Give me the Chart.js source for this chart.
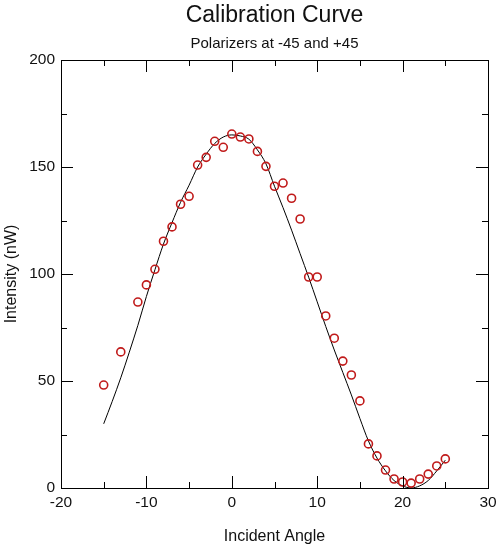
<!DOCTYPE html>
<html>
<head>
<meta charset="utf-8">
<script src="https://cdn.jsdelivr.net/npm/chart.js@4"></script>
<style>
  html, body { margin: 0; padding: 0; background: #fff; }
  #wrap { width: 504px; height: 552px; }
</style>
</head>
<body>
<div id="wrap"><canvas id="calChart" width="504" height="552"></canvas></div>
<script>
// measured points (incident angle in degrees, intensity in nW)
const angles = [-15, -13, -11, -10, -9, -8, -7, -6, -5, -4, -3, -2, -1, 0, 1, 2, 3, 4, 5, 6, 7, 8, 9, 10,
  11, 12, 13, 14, 15, 16, 17, 18, 19, 20, 21, 22, 23, 24, 25];
const intensity = [48.1, 63.6, 86.9, 94.9, 102.2, 115.3, 122, 132.6, 136.3, 150.9, 154.5, 162, 159.2, 165.4,
  164, 163.1, 157.3, 150.3, 141, 142.5, 135.4, 125.7, 98.6, 98.6, 80.4, 70, 59.3, 52.8, 40.7, 20.6,
  15, 8.4, 4.2, 2.8, 2.3, 4.2, 6.5, 10.3, 13.6];

// fitted curve
const fitAngles = [-15, -14, -13, -12, -11, -10, -9, -8, -7, -6, -5, -4, -3, -2, -1, 0, 1, 2, 3, 4, 5,
  6, 7, 8, 9, 10, 11, 12, 13, 14, 15, 16, 17, 18, 19, 20, 21, 22, 23, 24, 25];
const fitIntensity = [30, 40.5, 51.5, 63.5, 76, 89.5, 102, 114, 124, 133.5, 141.5, 150, 156, 161, 164, 165,
  164.5, 163, 158, 151.5, 141, 131, 120.5, 109.5, 98.5, 87, 75.5, 64.5, 54, 43.5, 32.5, 22, 14, 8,
  3.5, 1, 0, 1, 3.5, 8, 13];

const xTicks = { min: -20, max: 30, step: 10 };
const yTicks = { min: 0, max: 200, step: 50 };

const FONT = "'Liberation Sans', Arial, Helvetica, sans-serif";

// box + inward ticks + titles
const frame = {
  id: 'frame',
  afterDraw(chart) {
    const { ctx, chartArea: a, scales: { x, y } } = chart;
    ctx.save();
    ctx.strokeStyle = '#000';
    ctx.lineWidth = 1;
    ctx.strokeRect(a.left + 0.5, a.top + 0.5, a.right - a.left, a.bottom - a.top);

    ctx.beginPath();
    x.ticks.forEach(t => {
      const px = Math.round(x.getPixelForValue(t.value)) + 0.5;
      ctx.moveTo(px, a.bottom); ctx.lineTo(px, a.bottom - 12);
      ctx.moveTo(px, a.top); ctx.lineTo(px, a.top + 12);
      const m = t.value + xTicks.step / 2;
      if (m < xTicks.max) {
        const pm = Math.round(x.getPixelForValue(m)) + 0.5;
        ctx.moveTo(pm, a.bottom); ctx.lineTo(pm, a.bottom - 6);
        ctx.moveTo(pm, a.top); ctx.lineTo(pm, a.top + 6);
      }
    });
    y.ticks.forEach(t => {
      const py = Math.round(y.getPixelForValue(t.value)) + 0.5;
      ctx.moveTo(a.left, py); ctx.lineTo(a.left + 12, py);
      ctx.moveTo(a.right, py); ctx.lineTo(a.right - 12, py);
      const m = t.value + yTicks.step / 2;
      if (m < yTicks.max) {
        const pm = Math.round(y.getPixelForValue(m)) + 0.5;
        ctx.moveTo(a.left, pm); ctx.lineTo(a.left + 6, pm);
        ctx.moveTo(a.right, pm); ctx.lineTo(a.right - 6, pm);
      }
    });
    ctx.stroke();

    const cx = (a.left + a.right) / 2;
    ctx.fillStyle = '#111';
    ctx.textAlign = 'center';
    ctx.textBaseline = 'middle';
    ctx.font = '23px ' + FONT;
    ctx.fillText('Calibration Curve', cx, 16);
    ctx.font = '15px ' + FONT;
    ctx.fillText('Polarizers at -45 and +45', cx, 44);
    ctx.restore();
  }
};

new Chart(document.getElementById('calChart').getContext('2d'), {
  type: 'scatter',
  data: {
    datasets: [
      {
        label: 'Data',
        data: angles.map((a, i) => ({ x: a, y: intensity[i] })),
        pointStyle: 'circle',
        pointRadius: 4,
        pointBorderWidth: 1.6,
        borderColor: '#c01a1a',
        backgroundColor: 'rgba(0,0,0,0)',
        showLine: false,
        order: 0,
      },
      {
        label: 'Fit',
        data: fitAngles.map((a, i) => ({ x: a, y: fitIntensity[i] })),
        showLine: true,
        borderColor: '#000',
        borderWidth: 1,
        pointRadius: 0,
        cubicInterpolationMode: 'monotone',
        fill: false,
        order: 1,
      }
    ]
  },
  options: {
    responsive: false,
    animation: false,
    events: [],
    layout: { padding: { top: 60, right: 16, left: 0, bottom: 0 } },
    plugins: {
      legend: { display: false },
      tooltip: { enabled: false },
      title: { display: false },
    },
    scales: {
      x: {
        type: 'linear',
        min: xTicks.min,
        max: xTicks.max,
        ticks: { stepSize: xTicks.step, autoSkip: false, maxRotation: 0, padding: 5,
                 color: '#111', font: { family: FONT, size: 15.5 } },
        grid: { display: false, drawTicks: false },
        border: { display: false },
        title: { display: true, text: 'Incident Angle', color: '#111',
                 font: { family: FONT, size: 16 }, padding: { top: 0, bottom: 6 } },
        afterFit(scale) { scale.height = 64; },
      },
      y: {
        type: 'linear',
        min: yTicks.min,
        max: yTicks.max,
        ticks: { stepSize: yTicks.step, autoSkip: false, padding: 6,
                 color: '#111', font: { family: FONT, size: 15.5 } },
        grid: { display: false, drawTicks: false },
        border: { display: false },
        title: { display: true, text: 'Intensity (nW)', color: '#111',
                 font: { family: FONT, size: 16 }, padding: { top: 2, bottom: 0 } },
        afterFit(scale) { scale.width = 61; },
      }
    }
  },
  plugins: [frame]
});
</script>
</body>
</html>
